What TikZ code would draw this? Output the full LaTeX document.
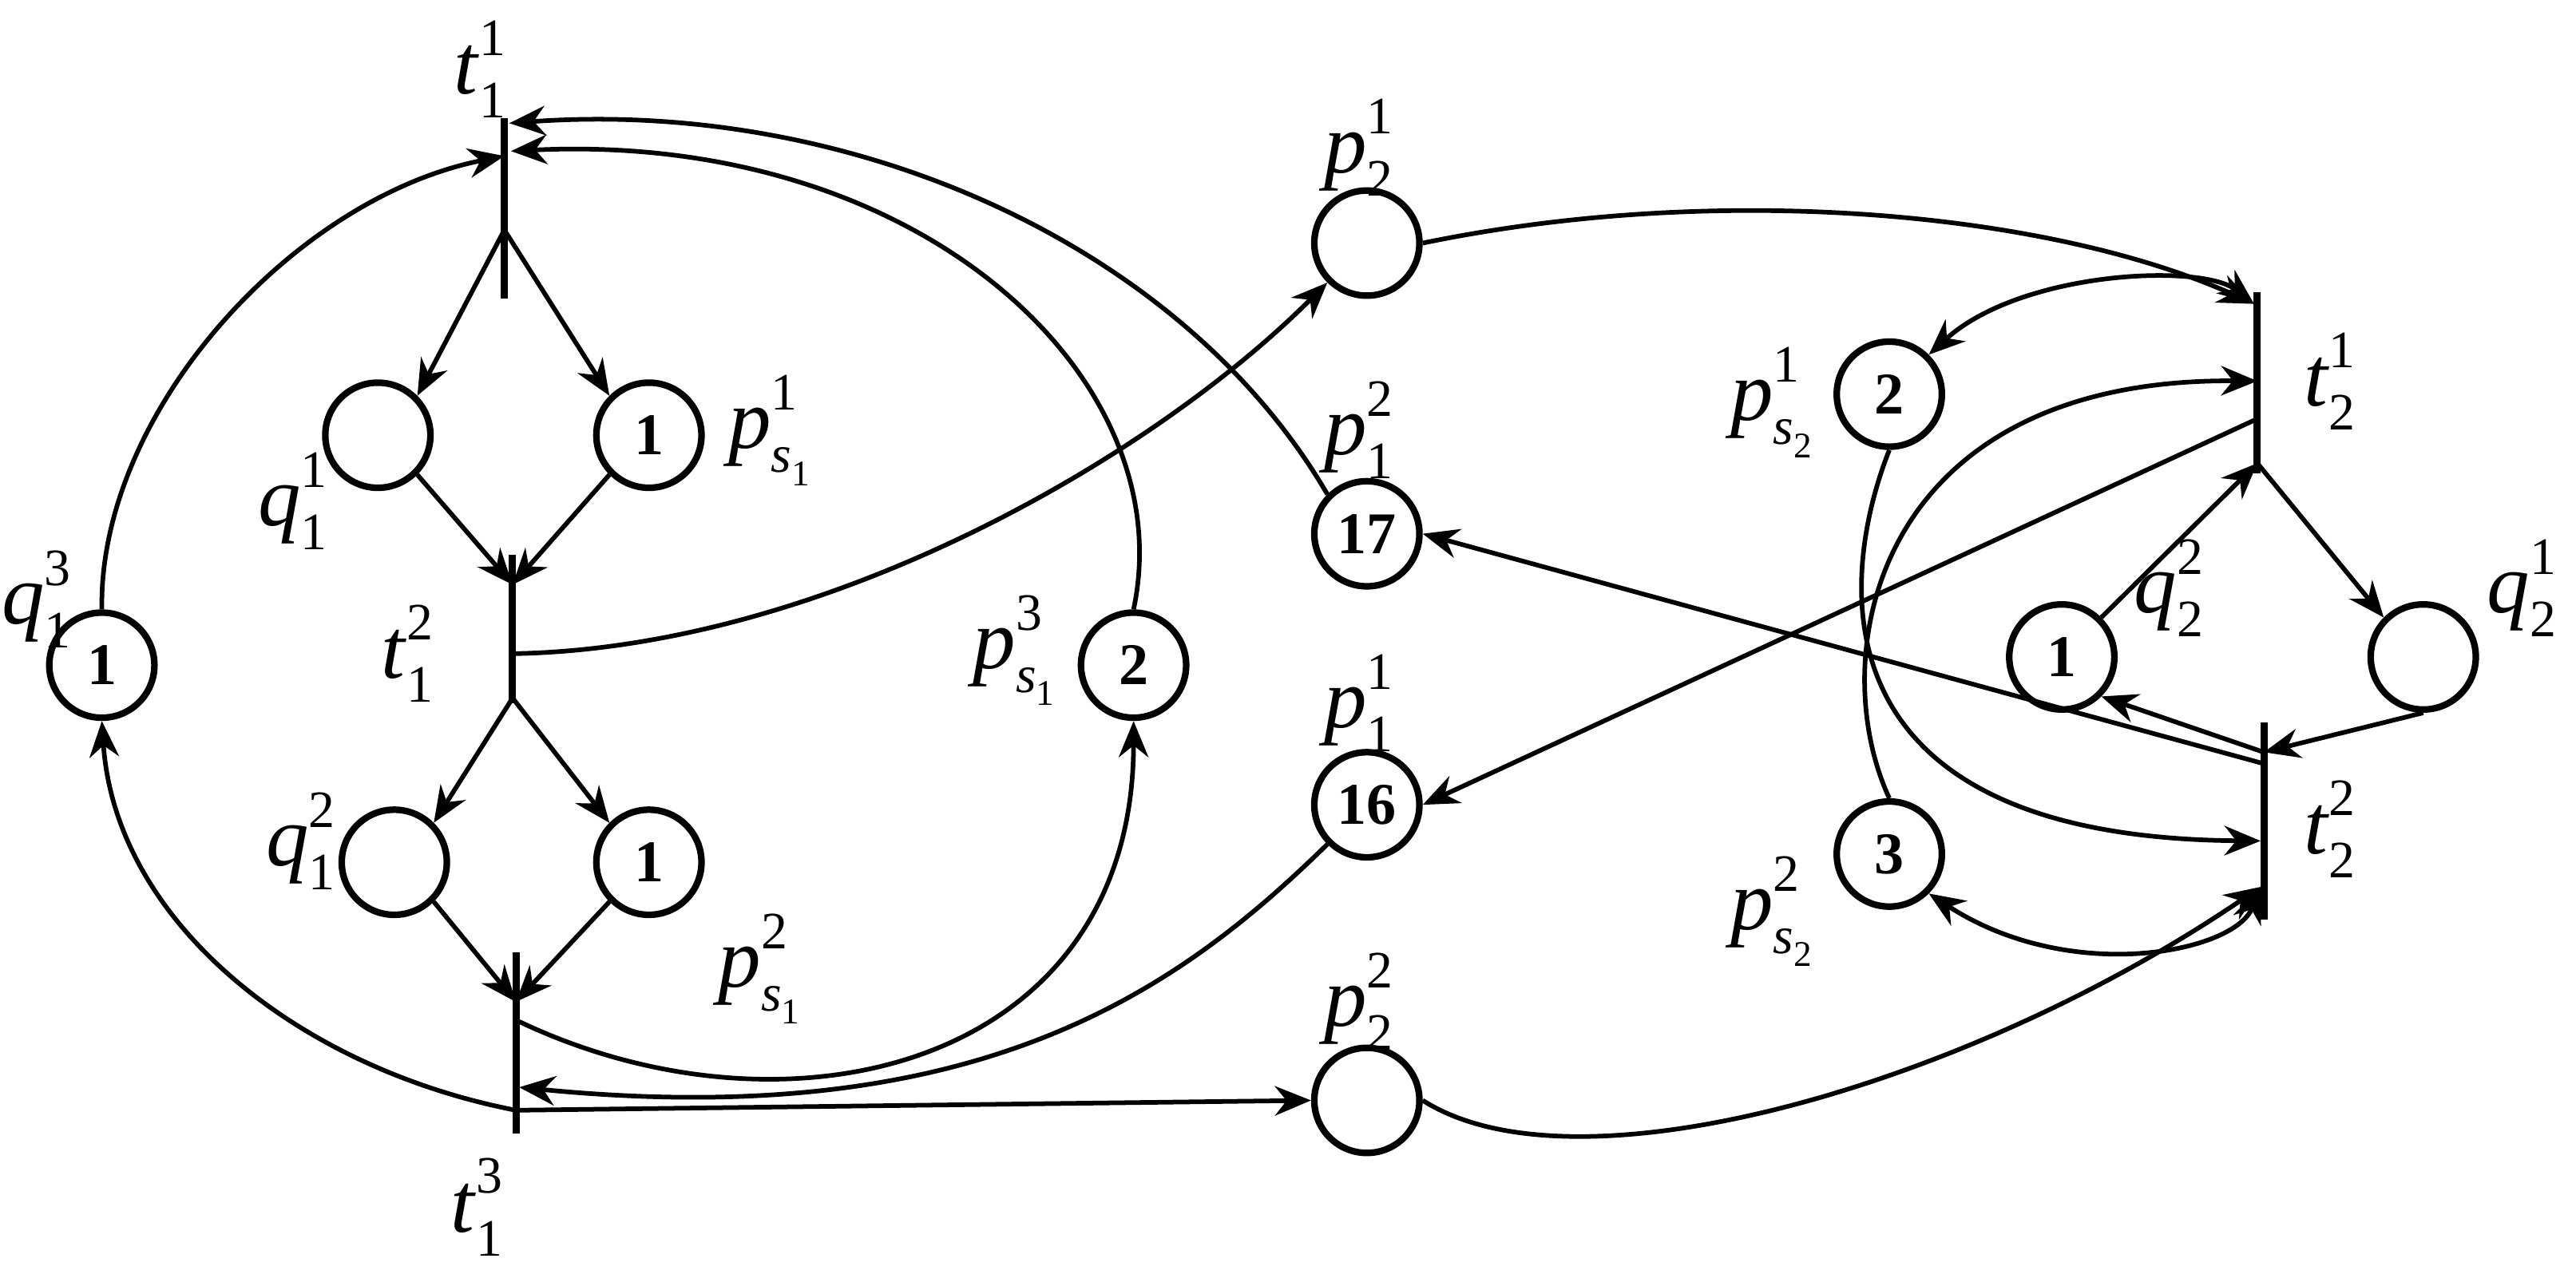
\documentclass[tikz,border=0pt]{standalone}
\usepackage{fontspec}
\setmainfont{Liberation Serif}
\usetikzlibrary{arrows.meta}
\newcommand{\lab}[3]{\textit{#1}\rlap{\raisebox{0.45em}{\fontsize{16}{16}\selectfont #3}}\raisebox{-0.28em}{\fontsize{16}{16}\selectfont #2}}
\newcommand{\ssub}[1]{\textit{s}\raisebox{-0.25em}{\fontsize{11}{11}\selectfont #1}}
\begin{document}
\begin{tikzpicture}[x=0.5pt,y=-0.5pt,
  pl/.style={circle,draw,line width=2pt,minimum size=32pt,inner sep=0pt,font=\fontsize{18}{18}\selectfont\bfseries},
  tr/.style={line width=2.2pt},
  lb/.style={font=\fontsize{26}{26}\selectfont,inner sep=0pt},
  a/.style={line width=1.4pt,-{Stealth[length=11pt,width=9pt]}},
  ab/.style={line width=1.4pt,{Stealth[length=11pt,width=9pt]}-{Stealth[length=11pt,width=9pt]}},
  l/.style={line width=1.4pt}]
\useasboundingbox (0,0) rectangle (1568,783);
% places
\node[pl] (q13) at (62,405) {1};
\node[pl] (q11) at (230,265) {};
\node[pl] (ps11) at (395,265) {1};
\node[pl] (q12) at (240,525) {};
\node[pl] (ps12) at (395,525) {1};
\node[pl] (ps13) at (690,405) {2};
\node[pl] (p21) at (832,148) {};
\node[pl] (p12) at (832,325) {17};
\node[pl] (p11) at (832,490) {16};
\node[pl] (p22) at (832,670) {};
\node[pl] (ps21) at (1150,240) {2};
\node[pl] (q22) at (1255,400) {1};
\node[pl] (q21) at (1475,400) {};
\node[pl] (ps22) at (1150,520) {3};
% transitions
\draw[tr] (307,72) -- (307,182);
\draw[tr] (312,338) -- (312,428);
\draw[tr] (314,580) -- (314,690);
\draw[tr] (1374,178) -- (1374,288);
\draw[tr] (1378,440) -- (1378,560);
\coordinate (T11a) at (307,95); \coordinate (T11b) at (310,75); \coordinate (T11c) at (311,92);
\coordinate (T11d) at (307,140);
\coordinate (T12a) at (312,356); \coordinate (T12b) at (312,398); \coordinate (T12c) at (312,425);
\coordinate (T13a) at (314,610); \coordinate (T13b) at (316,622); \coordinate (T13c) at (316,662); \coordinate (T13d) at (314,676);
\coordinate (T21a) at (1372,185); \coordinate (T21b) at (1374,232); \coordinate (T21c) at (1374,255); \coordinate (T21d) at (1374,282);
\coordinate (T22a) at (1378,465); \coordinate (T22b) at (1376,512); \coordinate (T22c) at (1376,540); \coordinate (T22d) at (1378,458);
% labels
\node[lb] at (292,42) {\lab{t}{1}{1}};
\node[lb] at (248,398) {\lab{t}{1}{2}};
\node[lb] at (290,735) {\lab{t}{1}{3}};
\node[lb] at (22,365) {\lab{q}{1}{3}};
\node[lb] at (178,305) {\lab{q}{1}{1}};
\node[lb] at (468,262) {\lab{p}{\ssub{1}}{1}};
\node[lb] at (183,512) {\lab{q}{1}{2}};
\node[lb] at (462,590) {\lab{p}{\ssub{1}}{2}};
\node[lb] at (617,396) {\lab{p}{\ssub{1}}{3}};
\node[lb] at (827,90) {\lab{p}{2}{1}};
\node[lb] at (827,262) {\lab{p}{1}{2}};
\node[lb] at (827,428) {\lab{p}{1}{1}};
\node[lb] at (827,610) {\lab{p}{2}{2}};
\node[lb] at (1418,232) {\lab{t}{2}{1}};
\node[lb] at (1418,505) {\lab{t}{2}{2}};
\node[lb] at (1078,245) {\lab{p}{\ssub{2}}{1}};
\node[lb] at (1078,555) {\lab{p}{\ssub{2}}{2}};
\node[lb] at (1320,358) {\lab{q}{2}{2}};
\node[lb] at (1535,358) {\lab{q}{2}{1}};
% arcs left
\draw[a] (q13.north) .. controls (60,250) and (180,120) .. (T11a);
\draw[a] (T13d) .. controls (180,650) and (70,560) .. (q13.south);
\draw[a] (T11d) -- (q11.north east);
\draw[a] (T11d) -- (ps11.north west);
\draw[a] (q11.south east) -- (T12a);
\draw[a] (ps11.south west) -- (T12a);
\draw[a] (T12c) -- (q12.north east);
\draw[a] (T12c) -- (ps12.north west);
\draw[a] (q12.south east) -- (T13a);
\draw[a] (ps12.south west) -- (T13a);
\draw[a] (T12b) .. controls (500,395) and (700,280) .. (p21.south west);
\draw[a] (T13d) -- (p22.west);
\draw[a] (ps13.north) .. controls (720,230) and (560,80) .. (T11c);
\draw[a] (p12.north west) .. controls (720,150) and (520,60) .. (T11b);
\draw[a] (T13b) .. controls (480,700) and (690,650) .. (ps13.south);
\draw[a] (p11.south west) .. controls (720,600) and (600,690) .. (T13c);
% right
\draw[a] (p21.east) .. controls (1050,110) and (1250,130) .. (T21a);
\draw[a] (p22.east) .. controls (960,730) and (1200,660) .. (T22c);
\draw[ab] (ps21.north east) .. controls (1230,165) and (1340,160) .. (T21a);
\draw[a] (ps21.south) .. controls (1120,350) and (1100,510) .. (T22b);
\draw[a] (ps22.north) .. controls (1110,400) and (1140,230) .. (T21b);
\draw[ab] (ps22.south east) .. controls (1260,600) and (1360,580) .. (T22c);
\draw[a] (T21c) -- (p11.east);
\draw[a] (T22a) -- (p12.east);
\draw[a] (q22.north east) -- (T21d);
\draw[a] (T22d) -- (q22.south east);
\draw[a] (T21d) -- (q21.north west);
\draw[a] (q21.south) -- (T22d);
\end{tikzpicture}
\end{document}
